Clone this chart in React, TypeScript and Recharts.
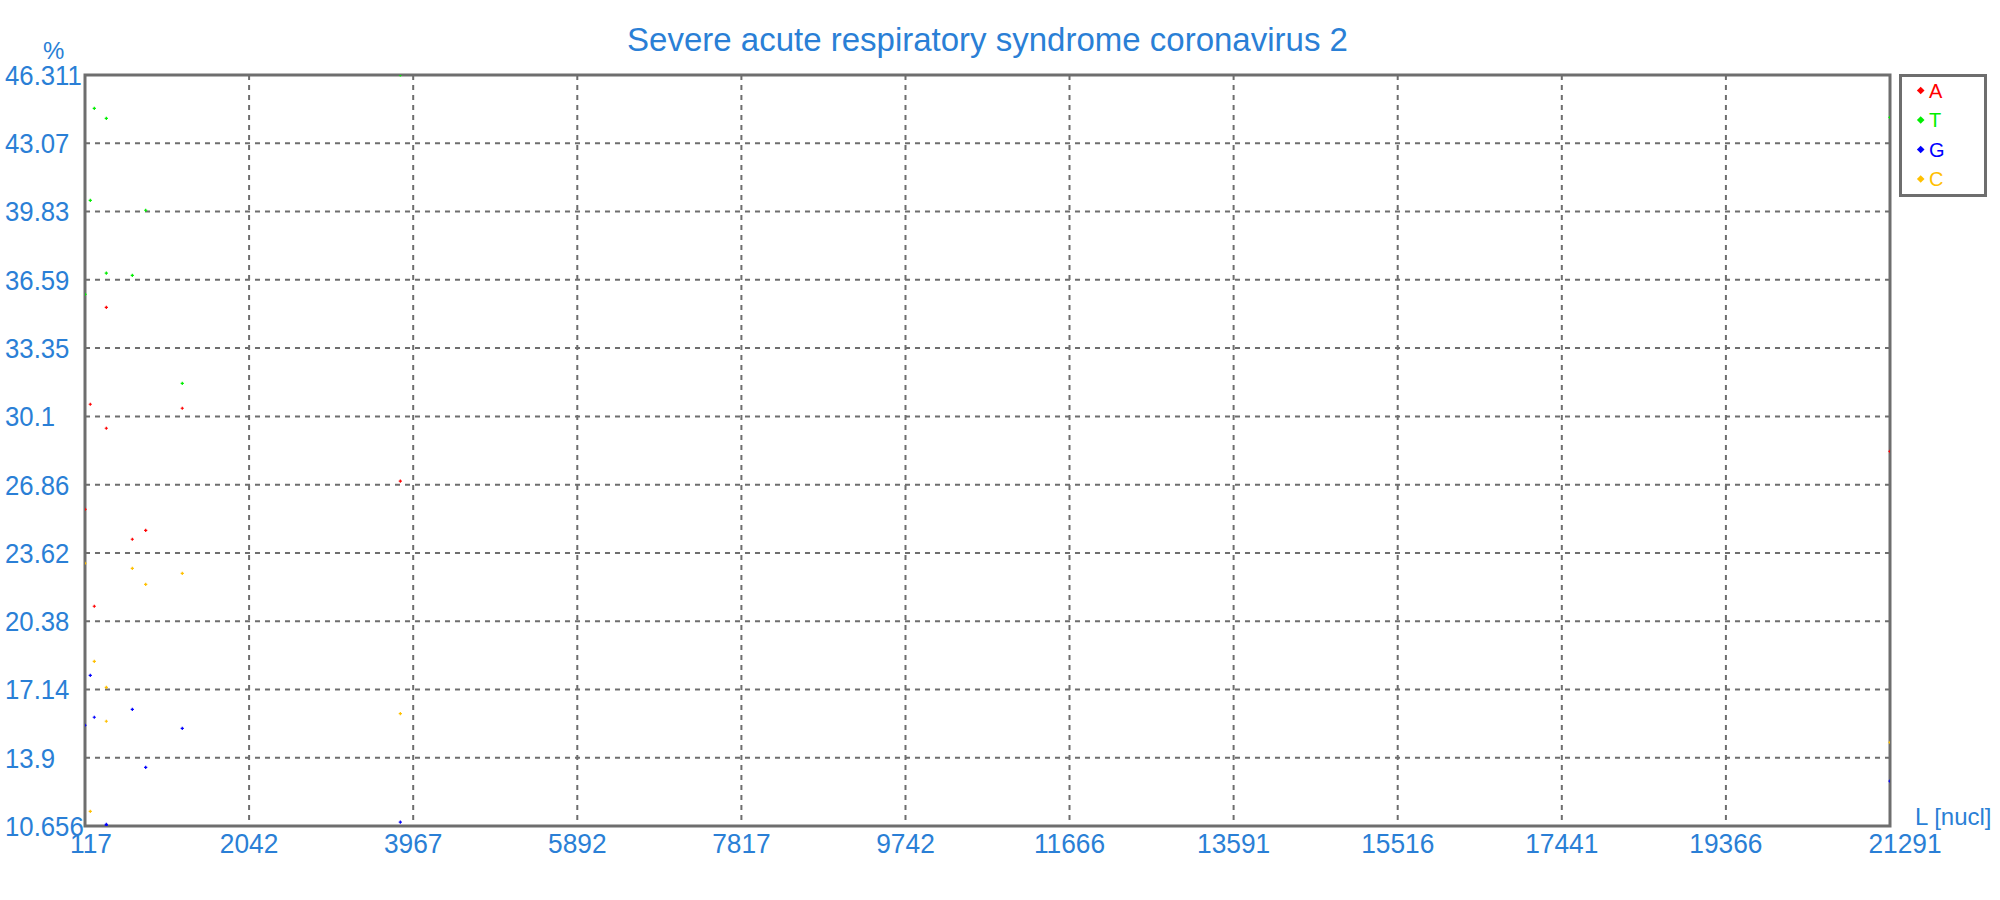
import { ScatterChart, Scatter, XAxis, YAxis, CartesianGrid, ReferenceArea, Legend } from 'recharts';

const BLUE_TEXT = '#2a7fd6';
const GRID = '#6e6e6e';
const FONT = '"Liberation Sans", Arial, sans-serif';

// window start positions (nucl)
const positions = [117, 179, 226, 367, 367, 672, 829, 1258, 3816, 21291];

// nucleotide content, %
const valuesA = [25.69, 30.68, 21.09, 29.54, 35.28, 24.27, 24.69, 30.49, 27.03, 28.44];
const valuesT = [35.9, 40.36, 44.73, 44.25, 36.9, 36.8, 39.89, 31.67, 46.31, 44.3];
const valuesG = [15.44, 17.81, 15.82, 10.73, 10.66, 16.19, 13.44, 15.29, 10.84, 12.79];
const valuesC = [23.13, 11.35, 18.47, 15.63, 17.24, 22.89, 22.13, 22.65, 15.99, 14.63];

const xTicks = [117, 2042, 3967, 5892, 7817, 9742, 11666, 13591, 15516, 17441, 19366, 21291];
const yTicks = [10.656, 13.9, 17.14, 20.38, 23.62, 26.86, 30.1, 33.35, 36.59, 39.83, 43.07, 46.311];

const SERIES = [
  { name: 'A', color: '#ff0000', values: valuesA },
  { name: 'T', color: '#00ee00', values: valuesT },
  { name: 'G', color: '#0000ff', values: valuesG },
  { name: 'C', color: '#ffc000', values: valuesC },
];

const crossShape = (color: string) => (props: any) => {
  const { cx, cy } = props;
  if (cx == null || cy == null) return <g />;
  return (
    <path
      d={`M${cx - 1.6},${cy}H${cx + 1.6}M${cx},${cy - 1.6}V${cy + 1.6}`}
      stroke={color}
      strokeWidth={1.2}
    />
  );
};

// labels in the original are tall and slightly condensed
// first and last x labels sit a little right of their ticks
const XTick = (props: any) => {
  const { x, y, payload, index, visibleTicksCount } = props;
  const shift = index === 0 ? 6 : index === visibleTicksCount - 1 ? 15 : 0;
  return (
    <text
      transform={`translate(${x + shift},${y}) scale(0.94,1)`}
      textAnchor="middle"
      dy="0.71em"
      fontSize={28}
      fontFamily={FONT}
      fill={BLUE_TEXT}
    >
      {payload.value}
    </text>
  );
};

// y labels are left aligned at the page edge
const YTick = (props: any) => {
  const { y, payload } = props;
  return (
    <text
      transform={`translate(5,${y}) scale(0.92,1)`}
      textAnchor="start"
      dy="0.355em"
      fontSize={28}
      fontFamily={FONT}
      fill={BLUE_TEXT}
    >
      {payload.value}
    </text>
  );
};

const renderLegend = () => (
  <svg width={88} height={123} style={{ display: 'block' }}>
    <rect x={1.5} y={1.5} width={85} height={120} fill="#fff" stroke={GRID} strokeWidth={3} />
    {SERIES.map((s, i) => (
      <g key={s.name} transform={`translate(0, ${16.5 + i * 29.5})`}>
        <path d="M21.7,-3.8 L25.5,0 L21.7,3.8 L17.9,0Z" fill={s.color} />
        <text x={30} y={0} dy="0.355em" fontSize={20} fontFamily={FONT} fill={s.color}>
          {s.name}
        </text>
      </g>
    ))}
  </svg>
);

export default function App() {
  return (
    <div style={{ position: 'absolute', left: 0, top: 0, width: 2000, height: 900, background: '#fff' }}>
      <div
        style={{
          position: 'absolute',
          left: 85,
          width: 1805,
          top: 21,
          textAlign: 'center',
          fontFamily: FONT,
          fontSize: 33,
          color: BLUE_TEXT,
          whiteSpace: 'nowrap',
        }}
      >
        Severe acute respiratory syndrome coronavirus 2
      </div>
      <div
        style={{
          position: 'absolute',
          left: 43,
          top: 37,
          fontFamily: FONT,
          fontSize: 24,
          color: BLUE_TEXT,
        }}
      >
        %
      </div>
      <div
        style={{
          position: 'absolute',
          left: 1915,
          top: 803,
          fontFamily: FONT,
          fontSize: 24,
          color: BLUE_TEXT,
          whiteSpace: 'nowrap',
        }}
      >
        L [nucl]
      </div>
      <ScatterChart width={2000} height={900} margin={{ top: 75, right: 110, bottom: 0, left: 0 }}>
        <CartesianGrid stroke={GRID} strokeWidth={2} strokeDasharray="5 5" />
        <XAxis
          type="number"
          dataKey="x"
          domain={[117, 21291]}
          ticks={xTicks}
          interval={0}
          height={74}
          axisLine={false}
          tickLine={false}
          tickSize={0}
          tickMargin={7}
          tick={<XTick />}
          allowDataOverflow
        />
        <YAxis
          type="number"
          dataKey="y"
          domain={[10.656, 46.311]}
          ticks={yTicks}
          interval={0}
          width={85}
          axisLine={false}
          tickLine={false}
          tickSize={0}
          tickMargin={4}
          tick={<YTick />}
          allowDataOverflow
        />
        <ReferenceArea
          x1={117}
          x2={21291}
          y1={10.656}
          y2={46.311}
          fill="none"
          fillOpacity={0}
          stroke={GRID}
          strokeWidth={3}
        />
        <Legend
          layout="horizontal"
          verticalAlign="middle"
          align="center"
          content={renderLegend}
          wrapperStyle={{ left: 1899, top: 74, width: 88, height: 123 }}
        />
        {SERIES.map((s) => (
          <Scatter
            key={s.name}
            name={s.name}
            data={positions.map((x, i) => ({ x, y: s.values[i] }))}
            fill={s.color}
            shape={crossShape(s.color)}
            isAnimationActive={false}
          />
        ))}
      </ScatterChart>
    </div>
  );
}
